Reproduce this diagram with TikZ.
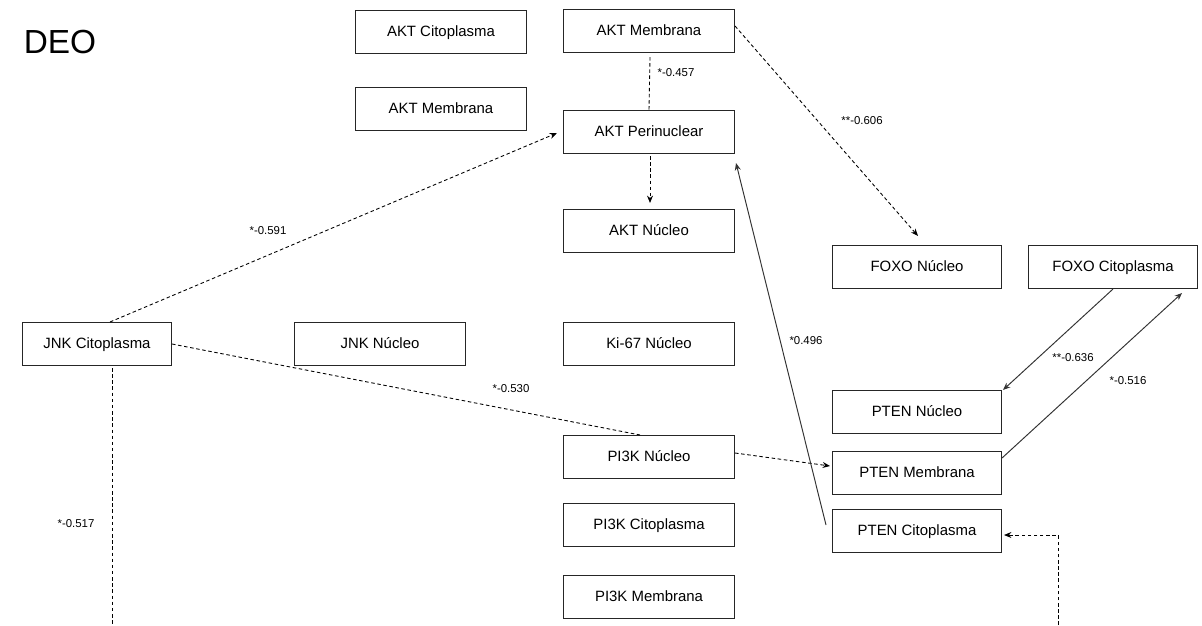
\documentclass[tikz,border=0pt]{standalone}
\usepackage{fontspec}
\setmainfont{Liberation Sans}
\usetikzlibrary{arrows.meta,calc}
\begin{document}
\begin{tikzpicture}[x=0.02cm,y=-0.02cm,
  box/.style={draw=black!85,line width=0.6pt,minimum width=3.42cm,minimum height=0.86cm,inner sep=0pt,
    text height=6.2pt,text depth=1.6pt,font=\fontsize{8.5}{10}\selectfont},
  narrow/.style={box,minimum width=3.38cm},
  lbl/.style={font=\fontsize{6.5}{8}\selectfont,inner sep=0pt},
  dsh/.style={line width=0.5pt,dash pattern=on 2pt off 1.5pt},
  sol/.style={line width=0.55pt,black!80},
  tip/.style={-{Stealth[length=4.2pt,width=3.4pt]}}]
\useasboundingbox (0,0) rectangle (1202,625);
\node[font=\fontsize{19}{21}\selectfont] (title) at (60,42) {DEO};
% AKT
\foreach \x/\y/\name/\txt in {441/32/aktc/AKT Citoplasma,649/31/aktm/AKT Membrana,
  441/109/aktmb/AKT Membrana,649/132/aktp/AKT Perinuclear,649/231/aktn/AKT Núcleo} {
  \node[box] (\name) at (\x,\y) {\txt};
}
% JNK, Ki-67, PI3K
\node[box,minimum width=2.98cm] (jnkc) at (97,344) {JNK Citoplasma};
\foreach \x/\y/\name/\txt in {380/344/jnkn/JNK Núcleo,649/344/ki/Ki-67 Núcleo,
  649/457/pin/PI3K Núcleo,649/525/pic/PI3K Citoplasma,649/597/pim/PI3K Membrana} {
  \node[box] (\name) at (\x,\y) {\txt};
}
% FOXO, PTEN
\foreach \x/\y/\name/\txt in {917/267/foxn/FOXO Núcleo,1113/267/foxc/FOXO Citoplasma,
  917/412/ptn/PTEN Núcleo,917/473/ptm/PTEN Membrana,917/531/ptc/PTEN Citoplasma} {
  \node[narrow] (\name) at (\x,\y) {\txt};
}
\coordinate (jnkend) at (112,625);
\coordinate (ptcend) at (1058,625);
% dashed
\draw[dsh] ($(aktm.south)+(1,4)$) -- (aktp.north);
\draw[dsh,tip] ($(aktp.south)+(1,2)$) -- ($(aktn.north)+(1,-6)$);
\draw[dsh,tip] ($(aktm.east)+(0,-5)$) -- ($(foxn.north)+(1,-9)$);
\draw[dsh,tip] ($(jnkc.north)+(13,0)$) -- ($(aktp.west)+(-6,1)$);
\draw[dsh] (jnkc.east) -- ($(pin.north)+(-9,0)$);
\draw[dsh] ($(jnkc.south)+(15,2)$) -- (jnkend);
\draw[dsh,tip] ($(pin.east)+(0,-4)$) -- ($(ptm.west)+(-2,-7)$);
\draw[dsh,tip] (ptcend) |- ($(ptc.east)+(2,4)$);
% solid
\draw[sol,tip] ($(ptc.west)+(-6,-6)$) -- ($(aktp.south east)+(1,9)$);
\draw[sol,tip] (foxc.south) -- ($(ptn.north east)+(1,0)$);
\draw[sol,tip] ($(ptm.east)+(0,-15)$) -- ($(foxc.south east)+(-16,4)$);
% labels
\node[lbl] (l1) at (676,73) {*-0.457};
\node[lbl] (l2) at (862,121) {**-0.606};
\node[lbl] (l3) at (268,231) {*-0.591};
\node[lbl] (l4) at (511,389) {*-0.530};
\node[lbl] (l5) at (76,524) {*-0.517};
\node[lbl] (l6) at (806,341) {*0.496};
\node[lbl] (l7) at (1073,358) {**-0.636};
\node[lbl] (l8) at (1128,381) {*-0.516};
\end{tikzpicture}
\end{document}
